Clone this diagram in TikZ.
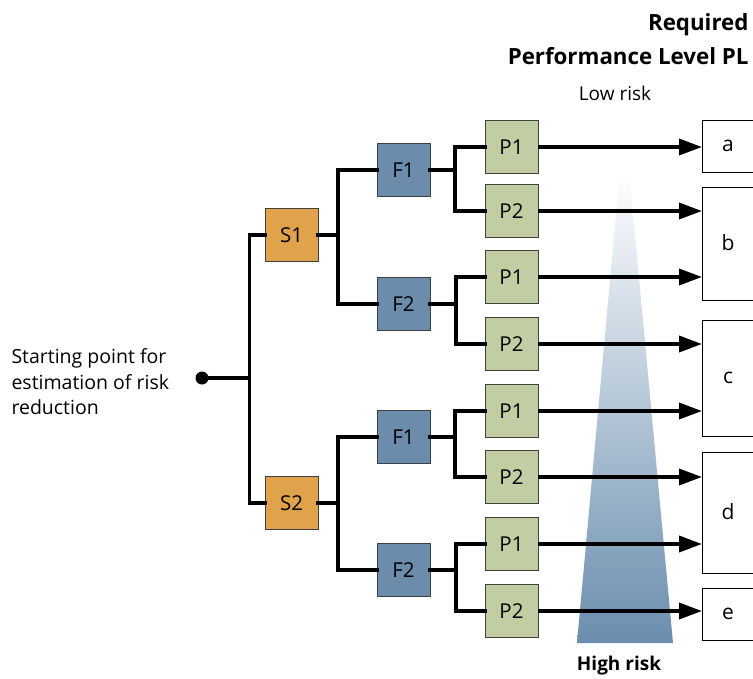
\documentclass[tikz,border=0pt]{standalone}
\usepackage{fontspec}
\setmainfont{Open Sans}
\usetikzlibrary{arrows.meta}
\definecolor{sorange}{HTML}{E0A24A}
\definecolor{fblue}{HTML}{6B8CAB}
\definecolor{pgreen}{HTML}{C3CDA3}
\definecolor{triblue}{HTML}{6A8EAE}
\begin{document}
\begin{tikzpicture}[x=1pt,y=-1pt,
  sbox/.style={draw=black!75,line width=0.6pt,minimum size=53pt,inner sep=0pt,font=\fontsize{20.5}{24}\selectfont},
  sn/.style={sbox,fill=sorange},
  fn/.style={sbox,fill=fblue},
  pn/.style={sbox,fill=pgreen},
  conn/.style={line width=3.7pt,line cap=rect},
  arr/.style={line width=3.7pt,-{Triangle[length=23pt,width=16pt]}},
  plbox/.style={draw=black,line width=0.8pt,fill=white},
  lbl/.style={font=\fontsize{21}{24}\selectfont}
]
\useasboundingbox (0,0) rectangle (753,678);
\clip (0,0) rectangle (753,678);
% risk triangle
\shade[top color=white,bottom color=triblue] (620,170) -- (629,170) -- (673,643) -- (577,643) -- cycle;
% headings
\node[anchor=east,font=\bfseries\fontsize{22.3}{26}\selectfont] (h1) at (752,25) {Required};
\node[anchor=east,font=\bfseries\fontsize{22.3}{26}\selectfont] (h2) at (752,56) {Performance Level PL};
\node[font=\fontsize{19}{22}\selectfont] (low) at (615,93) {Low risk};
\node[font=\bfseries\fontsize{19}{22}\selectfont] (high) at (619,666) {High risk};
\node[anchor=west,align=left,font=\fontsize{19.5}{25.5}\selectfont] (stxt) at (8,382) {Starting point for\\estimation of risk\\reduction};
% PL boxes
\draw[plbox] (702,120) rectangle (770,172);
\draw[plbox] (702,187) rectangle (770,300);
\draw[plbox] (702,320) rectangle (770,436);
\draw[plbox] (702,452) rectangle (770,573);
\draw[plbox] (702,588) rectangle (770,640);
\coordinate (pla) at (702,146);
\coordinate (plb) at (702,243);
\coordinate (plc) at (702,378);
\coordinate (pld) at (702,512);
\coordinate (ple) at (702,614);
\node[lbl] (la) at (728,146) {a};
\node[lbl] (lb) at (728,243) {b};
\node[lbl] (lc) at (728,378) {c};
\node[lbl] (ld) at (728,512) {d};
\node[lbl] (le) at (728,614) {e};
% tree nodes
\node[sn] (S1) at (291.5,235) {S1};
\node[sn] (S2) at (291.5,503) {S2};
\node[fn] (F1a) at (403.5,170) {F1};
\node[fn] (F2a) at (403.5,304) {F2};
\node[fn] (F1b) at (403.5,437) {F1};
\node[fn] (F2b) at (403.5,570) {F2};
\node[pn] (P1a) at (511.5,147) {P1};
\node[pn] (P2a) at (511.5,211) {P2};
\node[pn] (P1b) at (511.5,277) {P1};
\node[pn] (P2b) at (511.5,344) {P2};
\node[pn] (P1c) at (511.5,411) {P1};
\node[pn] (P2c) at (511.5,477) {P2};
\node[pn] (P1d) at (511.5,544) {P1};
\node[pn] (P2d) at (511.5,611) {P2};
% start
\fill (202,378) circle (6.5pt);
\coordinate (start) at (202,378);
\coordinate (j0) at (249.5,378);
\coordinate (j1) at (338,235);
\coordinate (j2) at (338,503);
\coordinate (j3) at (455,170);
\coordinate (j4) at (456,304);
\coordinate (j5) at (455,437);
\coordinate (j6) at (456,570);
\draw[conn] (start) -- (j0);
\draw[conn] (j0) |- (S1.west);
\draw[conn] (j0) |- (S2.west);
\draw[conn] (S1.east) -- (j1);
\draw[conn] (j1) |- (F1a.west);
\draw[conn] (j1) |- (F2a.west);
\draw[conn] (S2.east) -- (j2);
\draw[conn] (j2) |- (F1b.west);
\draw[conn] (j2) |- (F2b.west);
\draw[conn] (F1a.east) -- (j3);
\draw[conn] (j3) |- (P1a.west);
\draw[conn] (j3) |- (P2a.west);
\draw[conn] (F2a.east) -- (j4);
\draw[conn] (j4) |- (P1b.west);
\draw[conn] (j4) |- (P2b.west);
\draw[conn] (F1b.east) -- (j5);
\draw[conn] (j5) |- (P1c.west);
\draw[conn] (j5) |- (P2c.west);
\draw[conn] (F2b.east) -- (j6);
\draw[conn] (j6) |- (P1d.west);
\draw[conn] (j6) |- (P2d.west);
% arrows
\draw[arr] (P1a.east) -- (P1a.east -| pla);
\draw[arr] (P2a.east) -- (P2a.east -| plb);
\draw[arr] (P1b.east) -- (P1b.east -| plb);
\draw[arr] (P2b.east) -- (P2b.east -| plc);
\draw[arr] (P1c.east) -- (P1c.east -| plc);
\draw[arr] (P2c.east) -- (P2c.east -| pld);
\draw[arr] (P1d.east) -- (P1d.east -| pld);
\draw[arr] (P2d.east) -- (P2d.east -| ple);
\end{tikzpicture}
\end{document}
